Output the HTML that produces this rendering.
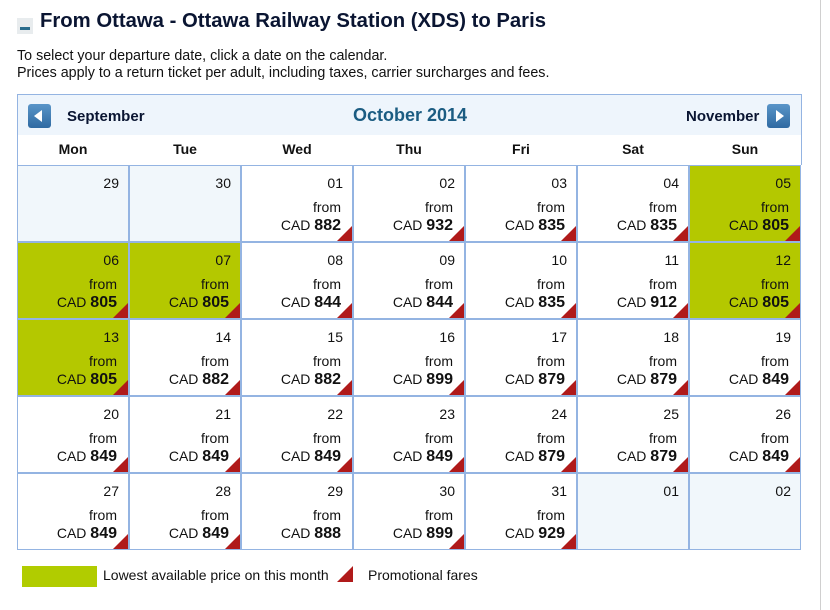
<!DOCTYPE html>
<html><head><meta charset="utf-8"><style>
body{margin:0;width:830px;height:610px;background:#fff;font-family:"Liberation Sans",Arial,sans-serif;position:relative;overflow:hidden;color:#111}
.a{position:absolute}
.cell{position:absolute;width:110px;height:75px;border:1px solid #94b4e2;background:#fff}
.cell.g{background:#b4c800}
.cell.p{background:#f1f7fb}
.d{position:absolute;right:9px;top:9px;font-size:14px}
.f{position:absolute;right:11px;top:33px;font-size:14px}
.c{position:absolute;right:11px;top:51px;font-size:14px;white-space:nowrap}
.c b{font-size:16px}
.t{position:absolute;right:0;bottom:0;width:0;height:0;border-style:solid;border-width:0 0 15px 15px;border-color:transparent transparent #b01a1a transparent}
.dh{position:absolute;top:141px;width:112px;text-align:center;font-weight:bold;font-size:14px;color:#111}
</style></head><body>
<div class="a" style="left:820px;top:0;width:1px;height:610px;background:#d0cfcf"></div>
<div class="a" style="left:17px;top:18px;width:16px;height:16px;background:#e8ecee"><div class="a" style="left:3px;top:9px;width:10px;height:3px;background:#2a6c8c"></div></div>
<div class="a" style="left:40px;top:10px;font-size:20.3px;font-weight:bold;color:#0a1532;white-space:nowrap">From Ottawa - Ottawa Railway Station (XDS) to Paris</div>
<div class="a" style="left:17px;top:48px;font-size:14.3px;line-height:17px;color:#111;white-space:nowrap">To select your departure date, click a date on the calendar.<br>Prices apply to a return ticket per adult, including taxes, carrier surcharges and fees.</div>
<div class="a" style="left:17px;top:94px;width:783px;height:40px;background:#eef5fc;border-top:1px solid #94b4e2;border-left:1px solid #94b4e2;border-right:1px solid #94b4e2"></div>
<div class="a" style="left:17px;top:135px;width:783px;height:30px;background:#fff;border-left:1px solid #94b4e2;border-right:1px solid #94b4e2"></div>
<div class="a" style="left:28px;top:104px;width:23px;height:24px;border-radius:3px;background:linear-gradient(#5a95c8,#2f6aa2)"><div class="a" style="left:6px;top:6px;border-style:solid;border-width:6px 8px 6px 0;border-color:transparent #fff transparent transparent"></div></div>
<div class="a" style="left:67px;top:108px;font-size:15px;font-weight:bold;color:#0a1532">September</div>
<div class="a" style="left:310px;top:105px;width:200px;text-align:center;font-size:18px;font-weight:bold;color:#1b5c82">October 2014</div>
<div class="a" style="left:686px;top:108px;font-size:15px;font-weight:bold;color:#0a1532">November</div>
<div class="a" style="left:767px;top:104px;width:23px;height:24px;border-radius:3px;background:linear-gradient(#5a95c8,#2f6aa2)"><div class="a" style="left:9px;top:6px;border-style:solid;border-width:6px 0 6px 8px;border-color:transparent transparent transparent #fff"></div></div>
<div class="dh" style="left:17px">Mon</div><div class="dh" style="left:129px">Tue</div><div class="dh" style="left:241px">Wed</div><div class="dh" style="left:353px">Thu</div><div class="dh" style="left:465px">Fri</div><div class="dh" style="left:577px">Sat</div><div class="dh" style="left:689px">Sun</div>
<div id="grid"></div>
<div class="a" style="left:22px;top:566px;width:75px;height:21px;background:#b1cc00"></div>
<div class="a" style="left:103px;top:567px;font-size:14px;color:#111">Lowest available price on this month</div>
<div class="a" style="left:337px;top:566px;border-style:solid;border-width:0 0 16px 16px;border-color:transparent transparent #b01a1a transparent"></div>
<div class="a" style="left:368px;top:567px;font-size:14px;color:#111">Promotional fares</div>
<script>
var data=[["29","",0,"p"],["30","",0,"p"],["01","882",1],["02","932",1],["03","835",1],["04","835",1],["05","805",1,"g"],
["06","805",1,"g"],["07","805",1,"g"],["08","844",1],["09","844",1],["10","835",1],["11","912",1],["12","805",1,"g"],
["13","805",1,"g"],["14","882",1],["15","882",1],["16","899",1],["17","879",1],["18","879",1],["19","849",1],
["20","849",1],["21","849",1],["22","849",1],["23","849",1],["24","879",1],["25","879",1],["26","849",1],
["27","849",1],["28","849",1],["29","888",0],["30","899",1],["31","929",1],["01","",0,"p"],["02","",0,"p"]];
var h="";
data.forEach(function(d,i){var c=i%7,r=Math.floor(i/7);
h+='<div class="cell '+(d[3]||"")+'" style="left:'+(17+112*c)+'px;top:'+(165+77*r)+'px"><div class="d">'+d[0]+'</div>';
if(d[1])h+='<div class="f">from</div><div class="c">CAD <b>'+d[1]+'</b></div>';
if(d[2])h+='<div class="t"></div>';
h+='</div>';});
document.getElementById("grid").innerHTML=h;
</script>
</body></html>
